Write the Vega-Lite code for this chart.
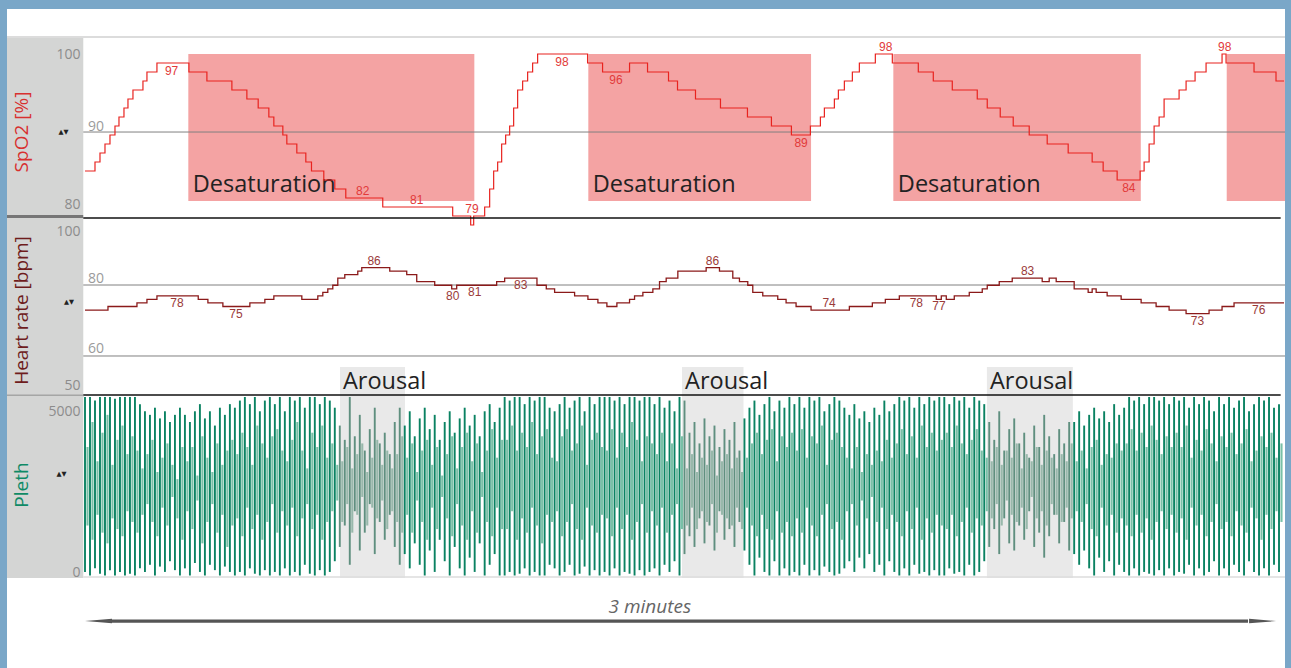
{
"$schema":"https://vega.github.io/schema/vega-lite/v6.json",
"width":1278,"height":659,
"autosize":{"type":"none"},
"padding":{"left":7,"top":9,"right":6,"bottom":0},
"background":"#7aa7c8",
"config":{"view":{"stroke":null,"fill":"#ffffff"},"axis":{"disable":true},"font":"Open Sans"},
"datasets":{
"spo2":[{"t":0,"v":85},{"t":1.5,"v":86},{"t":2.25,"v":87},{"t":3,"v":88},{"t":3.75,"v":89},{"t":4.5,"v":90},{"t":5.1,"v":91},{"t":5.85,"v":92},{"t":6.45,"v":93},{"t":7.2,"v":94},{"t":8.7,"v":95},{"t":9.3,"v":96},{"t":10.8,"v":97},{"t":15.6,"v":96},{"t":18.3,"v":95},{"t":22.05,"v":94},{"t":24.3,"v":93},{"t":26,"v":92},{"t":27.6,"v":91},{"t":28.35,"v":90},{"t":29.7,"v":89},{"t":30.3,"v":88},{"t":31.8,"v":87},{"t":33.15,"v":86},{"t":34,"v":85},{"t":35.85,"v":84},{"t":37.5,"v":83},{"t":39.15,"v":82},{"t":44.7,"v":81},{"t":55.2,"v":80},{"t":57.9,"v":79},{"t":58.35,"v":80},{"t":60,"v":81},{"t":60.75,"v":83},{"t":61.35,"v":85},{"t":61.95,"v":86},{"t":62.55,"v":88},{"t":63.15,"v":89},{"t":63.75,"v":90},{"t":64.35,"v":92},{"t":64.95,"v":94},{"t":65.7,"v":95},{"t":66.45,"v":96},{"t":67.2,"v":97},{"t":67.95,"v":98},{"t":75.45,"v":97},{"t":77.7,"v":96},{"t":81.75,"v":97},{"t":84.45,"v":96},{"t":87.6,"v":95},{"t":88.95,"v":94},{"t":91.65,"v":93},{"t":95.4,"v":92},{"t":99.45,"v":91},{"t":103.05,"v":90},{"t":106.05,"v":89},{"t":108.9,"v":90},{"t":110.4,"v":91},{"t":111,"v":92},{"t":112.5,"v":93},{"t":113.1,"v":94},{"t":114,"v":95},{"t":115.2,"v":96},{"t":116.25,"v":97},{"t":118.65,"v":98},{"t":121.2,"v":97},{"t":125.1,"v":96},{"t":127.35,"v":95},{"t":130.2,"v":94},{"t":133.95,"v":93},{"t":135.45,"v":92},{"t":137.4,"v":91},{"t":139.35,"v":90},{"t":141.75,"v":89},{"t":144.45,"v":88},{"t":147.6,"v":87},{"t":151.2,"v":86},{"t":152.85,"v":85},{"t":154.95,"v":84},{"t":158.4,"v":85},{"t":159,"v":86},{"t":159.75,"v":88},{"t":160.5,"v":90},{"t":161.25,"v":91},{"t":162,"v":93},{"t":164.25,"v":94},{"t":165.3,"v":95},{"t":166.65,"v":96},{"t":168.3,"v":97},{"t":170.7,"v":98},{"t":171.3,"v":97},{"t":175.5,"v":96},{"t":178.8,"v":95},{"t":180,"v":95}],
"hr":[{"t":0,"v":74},{"t":3.45,"v":75},{"t":7.8,"v":76},{"t":9.3,"v":77},{"t":10.8,"v":78},{"t":17,"v":77},{"t":18.45,"v":76},{"t":20.7,"v":75},{"t":24.75,"v":76},{"t":27,"v":77},{"t":28.35,"v":78},{"t":32.55,"v":77},{"t":34.95,"v":78},{"t":35.7,"v":79},{"t":36.45,"v":80},{"t":37.2,"v":81},{"t":37.95,"v":83},{"t":39,"v":84},{"t":40.95,"v":85},{"t":41.55,"v":86},{"t":45.75,"v":85},{"t":48.3,"v":84},{"t":49.8,"v":82},{"t":52.5,"v":81},{"t":55.05,"v":80},{"t":55.8,"v":81},{"t":61.8,"v":82},{"t":63,"v":83},{"t":67.85,"v":81},{"t":69.25,"v":80},{"t":70.5,"v":79},{"t":73.5,"v":78},{"t":75.5,"v":77},{"t":77,"v":76},{"t":78.35,"v":75},{"t":79.85,"v":76},{"t":81.75,"v":77},{"t":82.5,"v":78},{"t":83.75,"v":79},{"t":85.25,"v":80},{"t":86.25,"v":82},{"t":87.25,"v":83},{"t":89,"v":85},{"t":93.25,"v":86},{"t":95.25,"v":85},{"t":97.25,"v":83},{"t":98.25,"v":82},{"t":99.5,"v":81},{"t":100.25,"v":79},{"t":101.75,"v":78},{"t":104,"v":77},{"t":105.25,"v":76},{"t":106.75,"v":75},{"t":109,"v":74},{"t":114.75,"v":75},{"t":118.2,"v":76},{"t":120.15,"v":77},{"t":122.25,"v":78},{"t":127.8,"v":77},{"t":128.55,"v":78},{"t":129.3,"v":77},{"t":130.5,"v":78},{"t":132.75,"v":79},{"t":134.7,"v":80},{"t":135.45,"v":81},{"t":137.25,"v":82},{"t":139.2,"v":83},{"t":143.7,"v":82},{"t":144.75,"v":83},{"t":145.8,"v":82},{"t":148.5,"v":80},{"t":150.6,"v":79},{"t":151.2,"v":80},{"t":151.8,"v":79},{"t":153.45,"v":78},{"t":155.55,"v":77},{"t":158.55,"v":76},{"t":160.8,"v":75},{"t":162.75,"v":74},{"t":165.3,"v":73},{"t":168.75,"v":74},{"t":170.7,"v":75},{"t":172.5,"v":76},{"t":180,"v":76}],
"pleth":[
{"t":0,"a":100,"b":5000,"c":1400,"d":3600},{"t":0.75,"a":0,"b":5000,"c":1000,"d":4300},{"t":1.5,"a":200,"b":4900,"c":1700,"d":3200},{"t":2.25,"a":50,"b":5000,"c":1200,"d":4000},{"t":3,"a":0,"b":5000,"c":900,"d":4500},{"t":3.75,"a":150,"b":5000,"c":1600,"d":3100},{"t":4.5,"a":0,"b":4950,"c":1300,"d":3800},{"t":5.25,"a":100,"b":5000,"c":1100,"d":4200},{"t":6,"a":0,"b":5000,"c":1800,"d":3400},{"t":6.75,"a":50,"b":5000,"c":1500,"d":3900},
{"t":7.5,"a":0,"b":5000,"c":1200,"d":3500},{"t":8.25,"a":200,"b":4800,"c":1700,"d":3000},{"t":9,"a":100,"b":4600,"c":2000,"d":3400},{"t":9.75,"a":300,"b":4500,"c":1500,"d":3800},{"t":10.5,"a":0,"b":4700,"c":1100,"d":2900},{"t":11.25,"a":250,"b":4400,"c":1900,"d":3300},{"t":12,"a":100,"b":4600,"c":1400,"d":3700},{"t":12.75,"a":400,"b":4300,"c":2200,"d":3100},{"t":13.5,"a":150,"b":4500,"c":1600,"d":2700},{"t":14.25,"a":0,"b":4700,"c":1000,"d":3600},
{"t":15,"a":200,"b":4500,"c":1800,"d":3200},{"t":15.75,"a":0,"b":4300,"c":1300,"d":3600},{"t":16.5,"a":350,"b":4600,"c":2100,"d":2800},{"t":17.25,"a":100,"b":4800,"c":900,"d":3900},{"t":18,"a":0,"b":4400,"c":1500,"d":3300},{"t":18.75,"a":300,"b":4600,"c":2000,"d":2900},{"t":19.5,"a":150,"b":4200,"c":1200,"d":3700},{"t":20.25,"a":0,"b":4700,"c":1700,"d":3100},{"t":21,"a":250,"b":4500,"c":800,"d":3500},{"t":21.75,"a":100,"b":4800,"c":1400,"d":3800},
{"t":22.5,"a":0,"b":4700,"c":1600,"d":3400},{"t":23.25,"a":100,"b":4900,"c":1100,"d":4000},{"t":24,"a":0,"b":5000,"c":1900,"d":3600},{"t":24.75,"a":200,"b":4800,"c":1300,"d":3100},{"t":25.5,"a":50,"b":5000,"c":1700,"d":4200},{"t":26.25,"a":0,"b":4600,"c":1000,"d":3700},{"t":27,"a":150,"b":4900,"c":1500,"d":3300},{"t":27.75,"a":0,"b":5000,"c":2000,"d":3900},{"t":28.5,"a":100,"b":4800,"c":1200,"d":4100},{"t":29.25,"a":0,"b":5000,"c":1800,"d":3500},
{"t":30,"a":200,"b":4600,"c":1400,"d":3200},{"t":30.75,"a":0,"b":5000,"c":1900,"d":3800},{"t":31.5,"a":100,"b":4900,"c":1100,"d":4300},{"t":32.25,"a":0,"b":5000,"c":1600,"d":3500},{"t":33,"a":300,"b":4700,"c":2000,"d":3000},{"t":33.75,"a":50,"b":5000,"c":1300,"d":4000},{"t":34.5,"a":0,"b":5000,"c":1700,"d":3600},{"t":35.25,"a":150,"b":4800,"c":1000,"d":4200},{"t":36,"a":0,"b":5000,"c":1500,"d":3300},{"t":36.75,"a":100,"b":4900,"c":1800,"d":3700},{"t":37.5,"a":400,"b":4700,"c":2100,"d":3100},
{"t":38.25,"a":800,"b":4200,"c":1500,"d":3200},{"t":39,"a":1400,"b":3800,"c":2000,"d":3600},{"t":39.75,"a":300,"b":5000,"c":1200,"d":3000},{"t":40.5,"a":1800,"b":3900,"c":1700,"d":3400},{"t":41.25,"a":700,"b":4500,"c":2200,"d":3700},{"t":42,"a":1200,"b":3500,"c":1400,"d":2900},{"t":42.75,"a":2000,"b":4100,"c":1900,"d":3300},{"t":43.5,"a":600,"b":4700,"c":1600,"d":3800},{"t":44.25,"a":1500,"b":3700,"c":2100,"d":3100},{"t":45,"a":1000,"b":4000,"c":1300,"d":3500},{"t":45.75,"a":1700,"b":3400,"c":1800,"d":3000},{"t":46.5,"a":800,"b":4300,"c":1500,"d":3400},{"t":47.25,"a":300,"b":4700,"c":1200,"d":3900},
{"t":48,"a":600,"b":4200,"c":1700,"d":3300},{"t":48.75,"a":200,"b":4600,"c":1200,"d":3700},{"t":49.5,"a":900,"b":3900,"c":2100,"d":2900},{"t":50.25,"a":300,"b":4400,"c":1500,"d":3500},{"t":51,"a":0,"b":4700,"c":1000,"d":3800},{"t":51.75,"a":700,"b":4100,"c":1900,"d":3100},{"t":52.5,"a":100,"b":4500,"c":1300,"d":3600},{"t":53.25,"a":1000,"b":3800,"c":2200,"d":2800},{"t":54,"a":400,"b":4300,"c":1600,"d":3400},{"t":54.75,"a":0,"b":4600,"c":1100,"d":3900},
{"t":55.5,"a":800,"b":4000,"c":2000,"d":3000},{"t":56.25,"a":200,"b":4400,"c":1400,"d":3600},{"t":57,"a":0,"b":4700,"c":1000,"d":4000},{"t":57.75,"a":500,"b":4200,"c":1800,"d":3200},{"t":58.5,"a":100,"b":4500,"c":1200,"d":3700},{"t":59.25,"a":900,"b":3900,"c":2200,"d":2900},{"t":60,"a":0,"b":4600,"c":1500,"d":3500},{"t":60.75,"a":300,"b":4800,"c":1100,"d":4100},{"t":61.5,"a":600,"b":4300,"c":1900,"d":3300},{"t":62.25,"a":0,"b":4700,"c":1300,"d":3800},
{"t":63,"a":0,"b":5000,"c":1300,"d":3800},{"t":63.75,"a":100,"b":4900,"c":1800,"d":4200},{"t":64.5,"a":0,"b":5000,"c":1000,"d":3500},{"t":65.25,"a":50,"b":5000,"c":1600,"d":4000},{"t":66,"a":200,"b":4800,"c":1200,"d":3600},{"t":66.75,"a":0,"b":5000,"c":1900,"d":4300},{"t":67.5,"a":100,"b":4900,"c":1400,"d":3400},{"t":68.25,"a":0,"b":5000,"c":900,"d":3900},{"t":69,"a":0,"b":5000,"c":1700,"d":4100},{"t":69.75,"a":300,"b":4700,"c":1500,"d":3300},
{"t":70.5,"a":200,"b":4600,"c":1800,"d":3200},{"t":71.25,"a":0,"b":4800,"c":1100,"d":3900},{"t":72,"a":100,"b":5000,"c":1500,"d":4100},{"t":72.75,"a":300,"b":4700,"c":2000,"d":3500},{"t":73.5,"a":0,"b":4900,"c":1300,"d":3700},{"t":74.25,"a":50,"b":5000,"c":1000,"d":4200},{"t":75,"a":250,"b":4600,"c":1900,"d":3100},{"t":75.75,"a":0,"b":5000,"c":1400,"d":3800},{"t":76.5,"a":150,"b":4800,"c":1200,"d":4000},{"t":77.25,"a":0,"b":5000,"c":1700,"d":3600},
{"t":78,"a":100,"b":5000,"c":1600,"d":3500},{"t":78.75,"a":0,"b":5000,"c":1100,"d":4100},{"t":79.5,"a":200,"b":4900,"c":1900,"d":3300},{"t":80.25,"a":0,"b":5000,"c":1300,"d":4000},{"t":81,"a":100,"b":4800,"c":1700,"d":3600},{"t":81.75,"a":50,"b":5000,"c":1000,"d":4300},{"t":82.5,"a":0,"b":5000,"c":1500,"d":3800},{"t":83.25,"a":150,"b":4900,"c":2000,"d":3200},{"t":84,"a":0,"b":5000,"c":1200,"d":3900},{"t":84.75,"a":100,"b":5000,"c":1800,"d":3700},
{"t":85.5,"a":200,"b":4800,"c":1400,"d":3400},{"t":86.25,"a":0,"b":5000,"c":1900,"d":4000},{"t":87,"a":300,"b":4700,"c":1200,"d":3200},{"t":87.75,"a":100,"b":4900,"c":1700,"d":3700},{"t":88.5,"a":400,"b":4600,"c":2000,"d":3000},{"t":89.25,"a":0,"b":5000,"c":1300,"d":3900},
{"t":90,"a":600,"b":4900,"c":1400,"d":3000},{"t":90.75,"a":1100,"b":4000,"c":1900,"d":3400},{"t":91.5,"a":800,"b":4300,"c":1300,"d":2900},{"t":92.25,"a":1600,"b":3700,"c":1800,"d":3300},{"t":93,"a":900,"b":4400,"c":1500,"d":3100},{"t":93.75,"a":1400,"b":3900,"c":2000,"d":3500},{"t":94.5,"a":700,"b":4200,"c":1200,"d":2800},{"t":95.25,"a":1800,"b":3600,"c":1700,"d":3200},{"t":96,"a":1000,"b":4100,"c":1600,"d":3400},{"t":96.75,"a":1300,"b":3800,"c":1400,"d":3000},{"t":97.5,"a":800,"b":4300,"c":1900,"d":3300},{"t":98.25,"a":1500,"b":3500,"c":1300,"d":2900},
{"t":99,"a":700,"b":4400,"c":1900,"d":3300},{"t":99.75,"a":300,"b":4700,"c":1400,"d":3700},{"t":100.5,"a":0,"b":4900,"c":1100,"d":4000},{"t":101.25,"a":500,"b":4500,"c":1700,"d":3400},{"t":102,"a":100,"b":4800,"c":1300,"d":3800},{"t":102.75,"a":0,"b":5000,"c":1000,"d":4100},{"t":103.5,"a":400,"b":4600,"c":1800,"d":3200},{"t":104.25,"a":0,"b":4900,"c":1200,"d":3900},{"t":105,"a":200,"b":4700,"c":1500,"d":3600},{"t":105.75,"a":0,"b":5000,"c":1100,"d":4000},
{"t":106.5,"a":100,"b":4800,"c":1600,"d":3500},{"t":107.25,"a":0,"b":5000,"c":1200,"d":4100},{"t":108,"a":300,"b":4700,"c":1900,"d":3300},{"t":108.75,"a":0,"b":5000,"c":1400,"d":3900},{"t":109.5,"a":150,"b":4900,"c":1100,"d":3700},{"t":110.25,"a":0,"b":5000,"c":1700,"d":4200},{"t":111,"a":250,"b":4600,"c":2000,"d":3100},{"t":111.75,"a":100,"b":4800,"c":1300,"d":3800},{"t":112.5,"a":0,"b":5000,"c":1500,"d":4000},{"t":113.25,"a":50,"b":4900,"c":1000,"d":3600},
{"t":114,"a":200,"b":4700,"c":1800,"d":3300},{"t":114.75,"a":400,"b":4500,"c":2000,"d":3000},{"t":115.5,"a":100,"b":4800,"c":1400,"d":3600},{"t":116.25,"a":500,"b":4400,"c":2100,"d":2900},{"t":117,"a":200,"b":4600,"c":1600,"d":3400},{"t":117.75,"a":600,"b":4300,"c":2200,"d":3100},{"t":118.5,"a":100,"b":4700,"c":1500,"d":3500},{"t":119.25,"a":300,"b":4500,"c":1900,"d":3200},{"t":120,"a":0,"b":4900,"c":1300,"d":3800},{"t":120.75,"a":400,"b":4600,"c":1700,"d":3300},
{"t":121.5,"a":100,"b":4800,"c":1500,"d":3700},{"t":122.25,"a":0,"b":5000,"c":1100,"d":4100},{"t":123,"a":200,"b":4900,"c":1800,"d":3400},{"t":123.75,"a":0,"b":5000,"c":1300,"d":3900},{"t":124.5,"a":300,"b":4700,"c":1900,"d":3300},{"t":125.25,"a":50,"b":5000,"c":1000,"d":4200},{"t":126,"a":100,"b":4800,"c":1600,"d":3600},{"t":126.75,"a":0,"b":5000,"c":1200,"d":4000},{"t":127.5,"a":150,"b":4900,"c":1700,"d":3500},{"t":128.25,"a":0,"b":5000,"c":1400,"d":3800},
{"t":129,"a":0,"b":5000,"c":1300,"d":4000},{"t":129.75,"a":200,"b":4800,"c":1700,"d":3600},{"t":130.5,"a":50,"b":5000,"c":1100,"d":4200},{"t":131.25,"a":100,"b":4900,"c":1500,"d":3700},{"t":132,"a":0,"b":5000,"c":1900,"d":3400},{"t":132.75,"a":300,"b":4700,"c":1200,"d":3800},{"t":133.5,"a":0,"b":5000,"c":1600,"d":4100},{"t":134.25,"a":100,"b":4900,"c":1400,"d":3500},{"t":135,"a":400,"b":4800,"c":1800,"d":3300},
{"t":135.75,"a":800,"b":4300,"c":1600,"d":3200},{"t":136.5,"a":1300,"b":3800,"c":2000,"d":3600},{"t":137.25,"a":600,"b":4600,"c":1400,"d":3100},{"t":138,"a":1600,"b":3500,"c":2100,"d":3500},{"t":138.75,"a":900,"b":4100,"c":1700,"d":3300},{"t":139.5,"a":700,"b":4400,"c":1500,"d":3700},{"t":140.25,"a":1400,"b":3700,"c":1900,"d":3000},{"t":141,"a":1000,"b":4000,"c":1300,"d":3400},{"t":141.75,"a":1800,"b":3300,"c":2200,"d":3200},{"t":142.5,"a":800,"b":4200,"c":1600,"d":3600},{"t":143.25,"a":1200,"b":3600,"c":1800,"d":3100},{"t":144,"a":500,"b":4500,"c":1400,"d":3500},{"t":144.75,"a":1100,"b":3900,"c":2000,"d":3300},{"t":145.5,"a":1700,"b":3400,"c":1700,"d":3000},{"t":146.25,"a":900,"b":4100,"c":1500,"d":3400},{"t":147,"a":1500,"b":3700,"c":1900,"d":3200},{"t":147.75,"a":700,"b":4300,"c":1600,"d":3700},
{"t":148.5,"a":600,"b":4300,"c":1800,"d":3200},{"t":149.25,"a":300,"b":4600,"c":1500,"d":3500},{"t":150,"a":700,"b":4200,"c":2000,"d":3000},{"t":150.75,"a":200,"b":4500,"c":1300,"d":3600},{"t":151.5,"a":0,"b":4700,"c":1100,"d":3800},{"t":152.25,"a":500,"b":4400,"c":1900,"d":3100},{"t":153,"a":100,"b":4600,"c":1400,"d":3400},{"t":153.75,"a":400,"b":4300,"c":1700,"d":3300},{"t":154.5,"a":0,"b":4800,"c":1200,"d":3700},{"t":155.25,"a":300,"b":4500,"c":1600,"d":3500},
{"t":156,"a":100,"b":4700,"c":1400,"d":3700},{"t":156.75,"a":0,"b":5000,"c":1100,"d":4100},{"t":157.5,"a":200,"b":4900,"c":1700,"d":3500},{"t":158.25,"a":0,"b":5000,"c":1200,"d":4000},{"t":159,"a":100,"b":4800,"c":1600,"d":3600},{"t":159.75,"a":50,"b":5000,"c":1000,"d":4200},{"t":160.5,"a":0,"b":5000,"c":1500,"d":3800},{"t":161.25,"a":150,"b":4900,"c":1800,"d":3400},{"t":162,"a":0,"b":5000,"c":1300,"d":3900},{"t":162.75,"a":200,"b":4800,"c":1700,"d":3600},
{"t":163.5,"a":0,"b":5000,"c":1200,"d":4000},{"t":164.25,"a":100,"b":4900,"c":1600,"d":3600},{"t":165,"a":50,"b":5000,"c":1000,"d":4200},{"t":165.75,"a":300,"b":4700,"c":1900,"d":3300},{"t":166.5,"a":0,"b":5000,"c":1400,"d":3800},{"t":167.25,"a":200,"b":4800,"c":1700,"d":3500},{"t":168,"a":0,"b":5000,"c":1100,"d":4100},{"t":168.75,"a":100,"b":4900,"c":1500,"d":3700},{"t":169.5,"a":400,"b":4600,"c":2000,"d":3200},{"t":170.25,"a":0,"b":5000,"c":1300,"d":3900},
{"t":171,"a":200,"b":4800,"c":1500,"d":3600},{"t":171.75,"a":0,"b":5000,"c":1100,"d":4000},{"t":172.5,"a":300,"b":4700,"c":1800,"d":3400},{"t":173.25,"a":100,"b":4900,"c":1400,"d":3700},{"t":174,"a":0,"b":5000,"c":1200,"d":4100},{"t":174.75,"a":400,"b":4600,"c":1900,"d":3200},{"t":175.5,"a":100,"b":4800,"c":1600,"d":3500},{"t":176.25,"a":0,"b":5000,"c":1000,"d":3900},{"t":177,"a":200,"b":4900,"c":1700,"d":3600},{"t":177.75,"a":0,"b":5000,"c":1300,"d":4000},{"t":178.5,"a":300,"b":4700,"c":1800,"d":3300},{"t":179.25,"a":100,"b":4800,"c":1500,"d":3700}
],
"desat":[{"start":15.51,"end":58.45,"label":"Desaturation"},{"start":75.56,"end":109.0,"label":"Desaturation"},{"start":121.35,"end":158.5,"label":"Desaturation"},{"start":171.4,"end":180.15,"label":""}],
"arousal":[{"start":38.28,"end":48.04,"label":"Arousal"},{"start":89.63,"end":98.86,"label":"Arousal"},{"start":135.4,"end":148.3,"label":"Arousal"}],
"spo2_lab_below":[{"t":13.0,"v":97,"label":"97"},{"t":71.6,"v":98,"label":"98"},{"t":79.7,"v":96,"label":"96"},{"t":107.5,"v":89,"label":"89"},{"t":156.7,"v":84,"label":"84"}],
"spo2_lab_above":[{"t":41.7,"v":82,"label":"82"},{"t":49.8,"v":81,"label":"81"},{"t":58.1,"v":80,"label":"79"},{"t":120.2,"v":98,"label":"98"},{"t":171.1,"v":98,"label":"98"}],
"hr_lab_below":[{"t":13.8,"v":78,"label":"78"},{"t":22.65,"v":75,"label":"75"},{"t":55.2,"v":80,"label":"80"},{"t":58.5,"v":81,"label":"81"},{"t":65.4,"v":83,"label":"83"},{"t":124.8,"v":78,"label":"78"},{"t":128.2,"v":77,"label":"77"},{"t":167.0,"v":73,"label":"73"},{"t":176.2,"v":76,"label":"76"}],
"hr_lab_above":[{"t":43.4,"v":86,"label":"86"},{"t":94.2,"v":86,"label":"86"},{"t":111.7,"v":74,"label":"74"},{"t":141.5,"v":83,"label":"83"}]
},
"resolve":{"scale":{"y":"independent"}},
"layer":[
{"layer":[
 {"data":{"values":[{}]},"mark":{"type":"rect","color":"#d4d5d4"},"encoding":{"x":{"datum":-11.71,"type":"quantitative","scale":{"domain":[-11.71,180.15],"nice":false,"zero":false}},"x2":{"datum":-0.26},"y":{"datum":99.78,"type":"quantitative","scale":{"domain":[80,100],"range":[207,27],"nice":false,"zero":false}},"y2":{"datum":80.11}}},
 {"data":{"values":[{}]},"mark":{"type":"rule","color":"#767676","strokeWidth":3},"encoding":{"x":{"datum":-11.71,"type":"quantitative","scale":{"domain":[-11.71,180.15],"nice":false,"zero":false}},"x2":{"datum":-0.26},"y":{"datum":79.94,"type":"quantitative","scale":{"domain":[80,100],"range":[207,27],"nice":false,"zero":false}}}},
 {"data":{"values":[{}]},"mark":{"type":"rule","color":"#d0d0d0","strokeWidth":1.5},"encoding":{"x":{"datum":-11.71,"type":"quantitative","scale":{"domain":[-11.71,180.15],"nice":false,"zero":false}},"x2":{"datum":180.15},"y":{"datum":99.89,"type":"quantitative","scale":{"domain":[80,100],"range":[207,27],"nice":false,"zero":false}}}},
 {"data":{"name":"desat"},"mark":{"type":"rect","color":"#f4a3a3"},"encoding":{"x":{"field":"start","type":"quantitative","scale":{"domain":[-11.71,180.15],"nice":false,"zero":false}},"x2":{"field":"end"},"y":{"datum":98,"type":"quantitative","scale":{"domain":[80,100],"range":[207,27],"nice":false,"zero":false}},"y2":{"datum":81.67}}},
 {"data":{"name":"desat"},"mark":{"type":"text","align":"left","baseline":"alphabetic","dx":4.5,"fontSize":23.5,"color":"#222222"},"encoding":{"x":{"field":"start","type":"quantitative","scale":{"domain":[-11.71,180.15],"nice":false,"zero":false}},"y":{"datum":82.67,"type":"quantitative","scale":{"domain":[80,100],"range":[207,27],"nice":false,"zero":false}},"text":{"field":"label"}}},
 {"data":{"values":[{}]},"mark":{"type":"rule","color":"#808080","strokeWidth":1},"encoding":{"x":{"datum":-0.26,"type":"quantitative","scale":{"domain":[-11.71,180.15],"nice":false,"zero":false}},"x2":{"datum":180.15},"y":{"datum":89.33,"type":"quantitative","scale":{"domain":[80,100],"range":[207,27],"nice":false,"zero":false}}}},
 {"data":{"values":[{}]},"mark":{"type":"text","text":"90","align":"left","baseline":"alphabetic","dy":-1.5,"fontSize":14,"color":"#9b9b9b"},"encoding":{"x":{"datum":0.45,"type":"quantitative","scale":{"domain":[-11.71,180.15],"nice":false,"zero":false}},"y":{"datum":89.33,"type":"quantitative","scale":{"domain":[80,100],"range":[207,27],"nice":false,"zero":false}}}},
 {"data":{"values":[{}]},"mark":{"type":"text","text":"100","align":"right","baseline":"middle","fontSize":14,"color":"#8c8c8c"},"encoding":{"x":{"datum":-0.68,"type":"quantitative","scale":{"domain":[-11.71,180.15],"nice":false,"zero":false}},"y":{"datum":97.89,"type":"quantitative","scale":{"domain":[80,100],"range":[207,27],"nice":false,"zero":false}}}},
 {"data":{"values":[{}]},"mark":{"type":"text","text":"80","align":"right","baseline":"middle","fontSize":14,"color":"#8c8c8c"},"encoding":{"x":{"datum":-0.68,"type":"quantitative","scale":{"domain":[-11.71,180.15],"nice":false,"zero":false}},"y":{"datum":81.22,"type":"quantitative","scale":{"domain":[80,100],"range":[207,27],"nice":false,"zero":false}}}},
 {"data":{"values":[{}]},"mark":{"type":"text","text":"SpO2 [%]","angle":270,"align":"center","baseline":"alphabetic","fontSize":19,"color":"#d8302f"},"encoding":{"x":{"datum":-8.63,"type":"quantitative","scale":{"domain":[-11.71,180.15],"nice":false,"zero":false}},"y":{"datum":89.33,"type":"quantitative","scale":{"domain":[80,100],"range":[207,27],"nice":false,"zero":false}}}},
 {"data":{"values":[{}]},"mark":{"type":"text","text":"▲▼","align":"center","baseline":"middle","fontSize":6.5,"color":"#222222","font":"DejaVu Sans"},"encoding":{"x":{"datum":-3.23,"type":"quantitative","scale":{"domain":[-11.71,180.15],"nice":false,"zero":false}},"y":{"datum":89.37,"type":"quantitative","scale":{"domain":[80,100],"range":[207,27],"nice":false,"zero":false}}}},
 {"data":{"name":"spo2"},"mark":{"type":"line","interpolate":"step-after","color":"#e8231f","strokeWidth":1.2},"encoding":{"x":{"field":"t","type":"quantitative","scale":{"domain":[-11.71,180.15],"nice":false,"zero":false}},"y":{"field":"v","type":"quantitative","scale":{"domain":[80,100],"range":[207,27],"nice":false,"zero":false}}}},
 {"data":{"name":"spo2_lab_below"},"mark":{"type":"text","align":"center","baseline":"middle","dy":8,"fontSize":12,"font":"Liberation Sans","color":"#e23a3a"},"encoding":{"x":{"field":"t","type":"quantitative","scale":{"domain":[-11.71,180.15],"nice":false,"zero":false}},"y":{"field":"v","type":"quantitative","scale":{"domain":[80,100],"range":[207,27],"nice":false,"zero":false}},"text":{"field":"label"}}},
 {"data":{"name":"spo2_lab_above"},"mark":{"type":"text","align":"center","baseline":"middle","dy":-7,"fontSize":12,"font":"Liberation Sans","color":"#e23a3a"},"encoding":{"x":{"field":"t","type":"quantitative","scale":{"domain":[-11.71,180.15],"nice":false,"zero":false}},"y":{"field":"v","type":"quantitative","scale":{"domain":[80,100],"range":[207,27],"nice":false,"zero":false}},"text":{"field":"label"}}}
]},
{"data":{"name":"arousal"},"mark":{"type":"rect","color":"#e9e9e9"},"encoding":{"x":{"field":"start","type":"quantitative","scale":{"domain":[-11.71,180.15],"nice":false,"zero":false}},"x2":{"field":"end"},"y":{"datum":5840,"type":"quantitative","scale":{"domain":[0,5000],"range":[566.5,388],"nice":false,"zero":false}},"y2":{"datum":-70}}},
{"layer":[
 {"data":{"values":[{}]},"mark":{"type":"rect","color":"#d4d5d4"},"encoding":{"x":{"datum":-11.71,"type":"quantitative","scale":{"domain":[-11.71,180.15],"nice":false,"zero":false}},"x2":{"datum":-0.26},"y":{"datum":100,"type":"quantitative","scale":{"domain":[50,100],"range":[386,209],"nice":false,"zero":false}},"y2":{"datum":50}}},
 {"data":{"values":[{}]},"mark":{"type":"rule","color":"#767676","strokeWidth":2.5},"encoding":{"x":{"datum":-11.71,"type":"quantitative","scale":{"domain":[-11.71,180.15],"nice":false,"zero":false}},"x2":{"datum":-0.26},"y":{"datum":49.72,"type":"quantitative","scale":{"domain":[50,100],"range":[386,209],"nice":false,"zero":false}}}},
 {"data":{"values":[{}]},"mark":{"type":"rule","color":"#808080","strokeWidth":1},"encoding":{"x":{"datum":-0.26,"type":"quantitative","scale":{"domain":[-11.71,180.15],"nice":false,"zero":false}},"x2":{"datum":180.15},"y":{"datum":81.07,"type":"quantitative","scale":{"domain":[50,100],"range":[386,209],"nice":false,"zero":false}}}},
 {"data":{"values":[{}]},"mark":{"type":"rule","color":"#808080","strokeWidth":1},"encoding":{"x":{"datum":-0.26,"type":"quantitative","scale":{"domain":[-11.71,180.15],"nice":false,"zero":false}},"x2":{"datum":180.15},"y":{"datum":61.02,"type":"quantitative","scale":{"domain":[50,100],"range":[386,209],"nice":false,"zero":false}}}},
 {"data":{"values":[{}]},"mark":{"type":"rule","color":"#111111","strokeWidth":1.3},"encoding":{"x":{"datum":-0.26,"type":"quantitative","scale":{"domain":[-11.71,180.15],"nice":false,"zero":false}},"x2":{"datum":179.5},"y":{"datum":100,"type":"quantitative","scale":{"domain":[50,100],"range":[386,209],"nice":false,"zero":false}}}},
 {"data":{"values":[{}]},"mark":{"type":"rule","color":"#111111","strokeWidth":1.3},"encoding":{"x":{"datum":-0.26,"type":"quantitative","scale":{"domain":[-11.71,180.15],"nice":false,"zero":false}},"x2":{"datum":179.5},"y":{"datum":50,"type":"quantitative","scale":{"domain":[50,100],"range":[386,209],"nice":false,"zero":false}}}},
 {"data":{"values":[{}]},"mark":{"type":"text","text":"80","align":"left","baseline":"alphabetic","dy":-2,"fontSize":14,"color":"#9b9b9b"},"encoding":{"x":{"datum":0.45,"type":"quantitative","scale":{"domain":[-11.71,180.15],"nice":false,"zero":false}},"y":{"datum":81.07,"type":"quantitative","scale":{"domain":[50,100],"range":[386,209],"nice":false,"zero":false}}}},
 {"data":{"values":[{}]},"mark":{"type":"text","text":"60","align":"left","baseline":"alphabetic","dy":-2.5,"fontSize":14,"color":"#9b9b9b"},"encoding":{"x":{"datum":0.45,"type":"quantitative","scale":{"domain":[-11.71,180.15],"nice":false,"zero":false}},"y":{"datum":61.02,"type":"quantitative","scale":{"domain":[50,100],"range":[386,209],"nice":false,"zero":false}}}},
 {"data":{"values":[{}]},"mark":{"type":"text","text":"100","align":"right","baseline":"middle","fontSize":14,"color":"#8c8c8c"},"encoding":{"x":{"datum":-0.68,"type":"quantitative","scale":{"domain":[-11.71,180.15],"nice":false,"zero":false}},"y":{"datum":96.13,"type":"quantitative","scale":{"domain":[50,100],"range":[386,209],"nice":false,"zero":false}}}},
 {"data":{"values":[{}]},"mark":{"type":"text","text":"50","align":"right","baseline":"middle","fontSize":14,"color":"#8c8c8c"},"encoding":{"x":{"datum":-0.68,"type":"quantitative","scale":{"domain":[-11.71,180.15],"nice":false,"zero":false}},"y":{"datum":52.63,"type":"quantitative","scale":{"domain":[50,100],"range":[386,209],"nice":false,"zero":false}}}},
 {"data":{"values":[{}]},"mark":{"type":"text","text":"Heart rate [bpm]","angle":270,"align":"center","baseline":"alphabetic","fontSize":19,"color":"#6e1c1c"},"encoding":{"x":{"datum":-8.63,"type":"quantitative","scale":{"domain":[-11.71,180.15],"nice":false,"zero":false}},"y":{"datum":73.87,"type":"quantitative","scale":{"domain":[50,100],"range":[386,209],"nice":false,"zero":false}}}},
 {"data":{"values":[{}]},"mark":{"type":"text","text":"▲▼","align":"center","baseline":"middle","fontSize":6.5,"color":"#222222","font":"DejaVu Sans"},"encoding":{"x":{"datum":-2.4,"type":"quantitative","scale":{"domain":[-11.71,180.15],"nice":false,"zero":false}},"y":{"datum":76.19,"type":"quantitative","scale":{"domain":[50,100],"range":[386,209],"nice":false,"zero":false}}}},
 {"data":{"name":"hr"},"mark":{"type":"line","interpolate":"step-after","color":"#8b1a1a","strokeWidth":1.3},"encoding":{"x":{"field":"t","type":"quantitative","scale":{"domain":[-11.71,180.15],"nice":false,"zero":false}},"y":{"field":"v","type":"quantitative","scale":{"domain":[50,100],"range":[386,209],"nice":false,"zero":false}}}},
 {"data":{"name":"hr_lab_below"},"mark":{"type":"text","align":"center","baseline":"middle","dy":7,"fontSize":12,"font":"Liberation Sans","color":"#9a3a3a"},"encoding":{"x":{"field":"t","type":"quantitative","scale":{"domain":[-11.71,180.15],"nice":false,"zero":false}},"y":{"field":"v","type":"quantitative","scale":{"domain":[50,100],"range":[386,209],"nice":false,"zero":false}},"text":{"field":"label"}}},
 {"data":{"name":"hr_lab_above"},"mark":{"type":"text","align":"center","baseline":"middle","dy":-7,"fontSize":12,"font":"Liberation Sans","color":"#9a3a3a"},"encoding":{"x":{"field":"t","type":"quantitative","scale":{"domain":[-11.71,180.15],"nice":false,"zero":false}},"y":{"field":"v","type":"quantitative","scale":{"domain":[50,100],"range":[386,209],"nice":false,"zero":false}},"text":{"field":"label"}}},
 {"data":{"name":"arousal"},"mark":{"type":"text","align":"left","baseline":"alphabetic","dx":3,"fontSize":23.5,"color":"#222222"},"encoding":{"x":{"field":"start","type":"quantitative","scale":{"domain":[-11.71,180.15],"nice":false,"zero":false}},"y":{"datum":51.61,"type":"quantitative","scale":{"domain":[50,100],"range":[386,209],"nice":false,"zero":false}},"text":{"field":"label"}}}
]},
{"layer":[
 {"data":{"values":[{}]},"mark":{"type":"rect","color":"#d4d5d4"},"encoding":{"x":{"datum":-11.71,"type":"quantitative","scale":{"domain":[-11.71,180.15],"nice":false,"zero":false}},"x2":{"datum":-0.26},"y":{"datum":5040,"type":"quantitative","scale":{"domain":[0,5000],"range":[566.5,388],"nice":false,"zero":false}},"y2":{"datum":-70}}},
 {"data":{"values":[{}]},"mark":{"type":"rule","color":"#dcdcdc","strokeWidth":1.5},"encoding":{"x":{"datum":-0.26,"type":"quantitative","scale":{"domain":[-11.71,180.15],"nice":false,"zero":false}},"x2":{"datum":180.15},"y":{"datum":-42,"type":"quantitative","scale":{"domain":[0,5000],"range":[566.5,388],"nice":false,"zero":false}}}},
 {"data":{"values":[{}]},"mark":{"type":"text","text":"5000","align":"right","baseline":"middle","fontSize":14,"color":"#8c8c8c"},"encoding":{"x":{"datum":-0.68,"type":"quantitative","scale":{"domain":[-11.71,180.15],"nice":false,"zero":false}},"y":{"datum":4588,"type":"quantitative","scale":{"domain":[0,5000],"range":[566.5,388],"nice":false,"zero":false}}}},
 {"data":{"values":[{}]},"mark":{"type":"text","text":"0","align":"right","baseline":"middle","fontSize":14,"color":"#8c8c8c"},"encoding":{"x":{"datum":-0.68,"type":"quantitative","scale":{"domain":[-11.71,180.15],"nice":false,"zero":false}},"y":{"datum":62,"type":"quantitative","scale":{"domain":[0,5000],"range":[566.5,388],"nice":false,"zero":false}}}},
 {"data":{"values":[{}]},"mark":{"type":"text","text":"Pleth","angle":270,"align":"center","baseline":"alphabetic","fontSize":19,"color":"#0f8a66"},"encoding":{"x":{"datum":-8.5,"type":"quantitative","scale":{"domain":[-11.71,180.15],"nice":false,"zero":false}},"y":{"datum":2535,"type":"quantitative","scale":{"domain":[0,5000],"range":[566.5,388],"nice":false,"zero":false}}}},
 {"data":{"values":[{}]},"mark":{"type":"text","text":"▲▼","align":"center","baseline":"middle","fontSize":6.5,"color":"#222222","font":"DejaVu Sans"},"encoding":{"x":{"datum":-3.53,"type":"quantitative","scale":{"domain":[-11.71,180.15],"nice":false,"zero":false}},"y":{"datum":2843,"type":"quantitative","scale":{"domain":[0,5000],"range":[566.5,388],"nice":false,"zero":false}}}},
 {"data":{"name":"pleth"},"mark":{"type":"rule","strokeWidth":1.9},"encoding":{"x":{"field":"t","type":"quantitative","scale":{"domain":[-11.71,180.15],"nice":false,"zero":false}},"y":{"field":"a","type":"quantitative","scale":{"domain":[0,5000],"range":[566.5,388],"nice":false,"zero":false}},"y2":{"field":"b"},"color":{"condition":{"test":"(datum.t>=38.2&&datum.t<48)||(datum.t>=89.6&&datum.t<98.9)||(datum.t>=135.4&&datum.t<148.3)","value":"#5f8f7f"},"value":"#0a8262"}}},
 {"data":{"name":"pleth"},"mark":{"type":"rule","strokeWidth":2.1,"xOffset":2.5},"encoding":{"x":{"field":"t","type":"quantitative","scale":{"domain":[-11.71,180.15],"nice":false,"zero":false}},"y":{"field":"c","type":"quantitative","scale":{"domain":[0,5000],"range":[566.5,388],"nice":false,"zero":false}},"y2":{"field":"d"},"color":{"condition":{"test":"(datum.t>=38.2&&datum.t<48)||(datum.t>=89.6&&datum.t<98.9)||(datum.t>=135.4&&datum.t<148.3)","value":"#98b8ab"},"value":"#79c0a7"}}}
]},
{"data":{"values":[{}]},"layer":[
 {"mark":{"type":"rule","color":"#555555","strokeWidth":3.3},"encoding":{"x":{"datum":4.0,"type":"quantitative","scale":{"domain":[-11.71,180.15],"nice":false,"zero":false}},"x2":{"datum":174.6},"y":{"datum":0.516,"type":"quantitative","scale":{"domain":[0,1],"range":[659,568],"nice":false,"zero":false}}}},
 {"mark":{"type":"point","shape":"M-1,0L1,-0.17L1,0.17Z","size":729,"filled":true,"color":"#555555","opacity":1},"encoding":{"x":{"datum":2.03,"type":"quantitative","scale":{"domain":[-11.71,180.15],"nice":false,"zero":false}},"y":{"datum":0.516,"type":"quantitative","scale":{"domain":[0,1],"range":[659,568],"nice":false,"zero":false}}}},
 {"mark":{"type":"point","shape":"M1,0L-1,-0.17L-1,0.17Z","size":729,"filled":true,"color":"#555555","opacity":1},"encoding":{"x":{"datum":176.78,"type":"quantitative","scale":{"domain":[-11.71,180.15],"nice":false,"zero":false}},"y":{"datum":0.516,"type":"quantitative","scale":{"domain":[0,1],"range":[659,568],"nice":false,"zero":false}}}},
 {"mark":{"type":"text","text":"3 minutes","align":"center","baseline":"alphabetic","fontSize":19,"fontStyle":"italic","color":"#666666"},"encoding":{"x":{"datum":84.8,"type":"quantitative","scale":{"domain":[-11.71,180.15],"nice":false,"zero":false}},"y":{"datum":0.604,"type":"quantitative","scale":{"domain":[0,1],"range":[659,568],"nice":false,"zero":false}}}}
]}
]
}
